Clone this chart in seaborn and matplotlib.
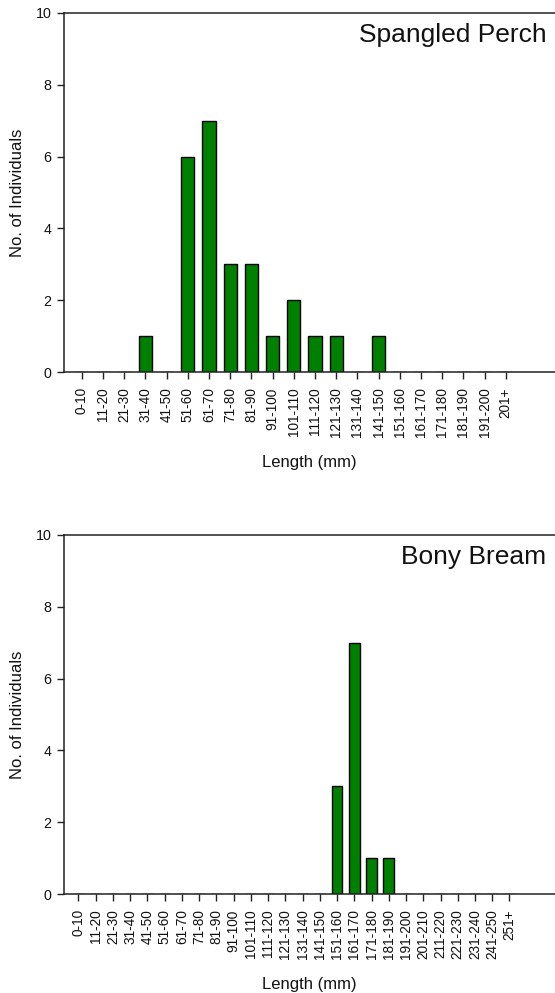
import matplotlib
matplotlib.use("Agg")
import matplotlib.pyplot as plt
import seaborn as sns
import pandas as pd

# Length-frequency data for two species
perch_bins = ["0-10", "11-20", "21-30", "31-40", "41-50", "51-60", "61-70",
              "71-80", "81-90", "91-100", "101-110", "111-120", "121-130",
              "131-140", "141-150", "151-160", "161-170", "171-180",
              "181-190", "191-200", "201+"]
perch_counts = [0, 0, 0, 1, 0, 6, 7, 3, 3, 1, 2, 1, 1, 0, 1, 0, 0, 0, 0, 0, 0]

bream_bins = ["0-10", "11-20", "21-30", "31-40", "41-50", "51-60", "61-70",
              "71-80", "81-90", "91-100", "101-110", "111-120", "121-130",
              "131-140", "141-150", "151-160", "161-170", "171-180",
              "181-190", "191-200", "201-210", "211-220", "221-230",
              "231-240", "241-250", "251+"]
bream_counts = [0, 0, 0, 0, 0, 0, 0, 0, 0, 0, 0, 0, 0, 0, 0,
                3, 7, 1, 1, 0, 0, 0, 0, 0, 0, 0]

sns.set_theme(style="ticks")
plt.rcParams["font.family"] = ["Liberation Sans", "DejaVu Sans"]

W, H = 555, 993
fig = plt.figure(figsize=(W / 100, H / 100), dpi=100)

panels = [
    ("Spangled Perch", perch_bins, perch_counts, 13, 22.31 + 0.85),
    ("Bony Bream", bream_bins, bream_counts, 535, 27.67 + 0.81),
]

for title, bins, counts, top_px, span in panels:
    left_px, right_px, h_px = 64, 555, 359
    ax = fig.add_axes([left_px / W, (H - top_px - h_px) / H,
                       (right_px - left_px) / W, h_px / H])
    df = pd.DataFrame({"Length": bins, "Count": counts})
    sns.barplot(data=df, x="Length", y="Count", order=bins, ax=ax,
                color="#008000", saturation=1, width=0.62,
                edgecolor="black", linewidth=1.0)
    x0 = -0.84
    ax.set_xlim(x0, x0 + span)
    ax.set_ylim(0, 10)
    ax.set_yticks([0, 2, 4, 6, 8, 10])
    ax.tick_params(axis="x", labelrotation=90, labelsize=9.8, length=5,
                   width=1, pad=6, color="#222222", labelcolor="#111111")
    ax.tick_params(axis="y", labelsize=10.3, length=5, width=1, pad=4,
                   color="#222222", labelcolor="#111111")
    for lbl in ax.get_xticklabels():
        lbl.set_verticalalignment("top")
    ax.set_xlabel("Length (mm)", fontsize=12, labelpad=13, color="#111111")
    ax.set_ylabel("No. of Individuals", fontsize=12, labelpad=8,
                  color="#111111")
    for side in ["left", "bottom", "top"]:
        ax.spines[side].set_visible(True)
        ax.spines[side].set_color("#222222")
        ax.spines[side].set_linewidth(1.1)
    ax.spines["right"].set_visible(False)
    ax.text(0.982, 0.972, title, transform=ax.transAxes, ha="right",
            va="top", fontsize=19, color="#111111")

fig.savefig("out.png", dpi=100)
